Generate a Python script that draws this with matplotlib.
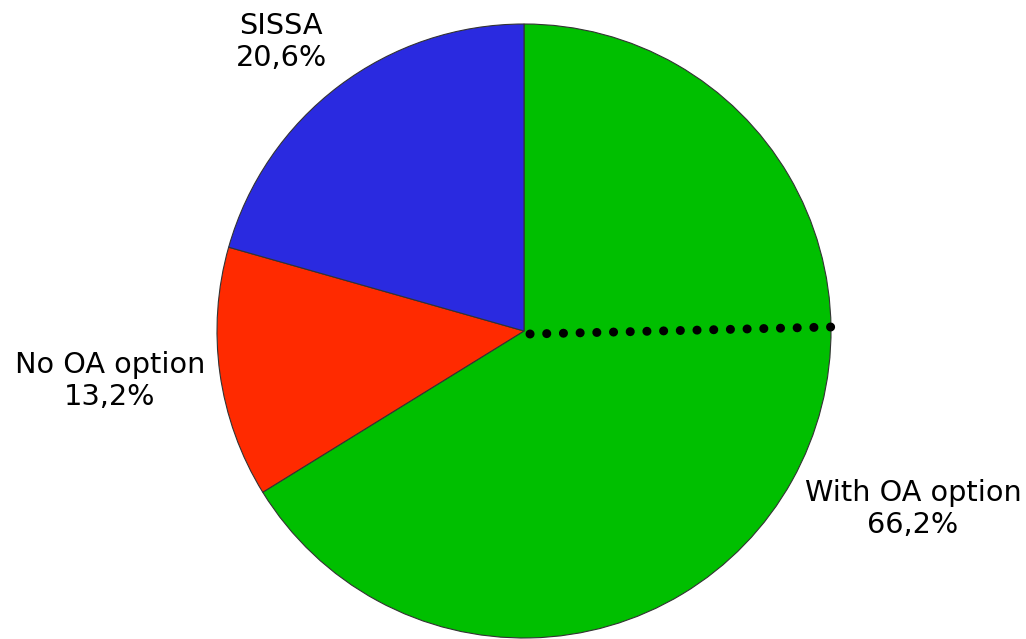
import matplotlib.pyplot as plt

# --- data ---
labels = ["With OA option", "No OA option", "SISSA"]
shares = [66.2, 13.2, 20.6]
colors = ["#00bf00", "#ff2a00", "#2a2ae0"]

# label positions in pixel coords (x, y from top)
label_pos = [(913, 509), (110, 381), (281, 42)]

fig = plt.figure(figsize=(10.26, 6.39), dpi=100)
ax = fig.add_axes([0, 0, 1, 1])
ax.set_xlim(0, 1026)
ax.set_ylim(0, 639)

cx, cy, r = 524, 639 - 331, 307

ax.pie(shares, colors=colors, startangle=90, counterclock=False,
       center=(cx, cy), radius=r, frame=True,
       wedgeprops=dict(edgecolor="#333333", linewidth=0.8))

# dotted line from centre to right edge
ax.plot([cx + 6, cx + r], [cy - 3, cy + 4], linestyle=(0, (0.01, 1.84)),
        color="black", linewidth=6.5, solid_capstyle="round",
        dash_capstyle="round")

for lab, val, (x, y) in zip(labels, shares, label_pos):
    ax.text(x, 639 - y, f"{lab}\n{val:.1f}%".replace(".", ","),
            ha="center", va="center", fontsize=20.7, linespacing=1.15,
            family="DejaVu Sans")

ax.set_aspect("equal")
ax.axis("off")
fig.savefig("out.png", dpi=100)
